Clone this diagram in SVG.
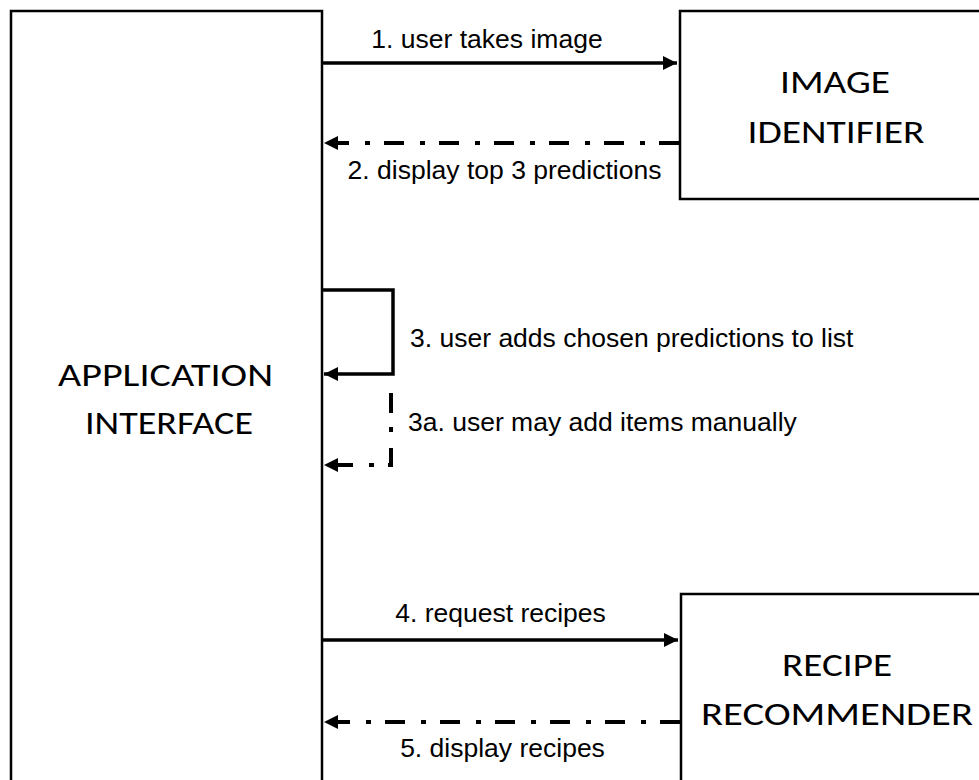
<svg xmlns="http://www.w3.org/2000/svg" width="979" height="780" viewBox="0 0 979 780">
<style>
.box{fill:#fff;stroke:#000;stroke-width:2.5}
.big{font-family:Carlito,"Open Sans","Liberation Sans",sans-serif;font-size:32px;fill:#000;text-anchor:middle}
.lbl{font-family:"Liberation Sans",Arial,sans-serif;font-size:26.5px;fill:#000}
.solid{fill:none;stroke:#000;stroke-width:3.5}
.dd{fill:none;stroke:#000;stroke-width:4;stroke-dasharray:20 14 5 16}
</style>
<defs>
<marker id="ah" viewBox="0 0 10 10" refX="10" refY="5" markerWidth="4.2" markerHeight="4" markerUnits="strokeWidth" orient="auto">
<path d="M0,0 L10,5 L0,10 z" fill="#000"/>
</marker>
<marker id="ah2" viewBox="0 0 10 10" refX="10" refY="5" markerWidth="3.6" markerHeight="3.6" markerUnits="strokeWidth" orient="auto">
<path d="M0,0 L10,5 L0,10 z" fill="#000"/>
</marker>
</defs>
<rect width="979" height="780" fill="#fff"/>
<g id="app">
<rect class="box" x="11" y="11" width="311" height="800"/>
<text class="big" x="165.5" y="386" textLength="215" lengthAdjust="spacingAndGlyphs">APPLICATION</text>
<text class="big" x="169" y="434" textLength="168" lengthAdjust="spacingAndGlyphs">INTERFACE</text>
</g>
<g id="identifier">
<rect class="box" x="680" y="11" width="320" height="188"/>
<text class="big" x="835" y="93" textLength="110" lengthAdjust="spacingAndGlyphs">IMAGE</text>
<text class="big" x="836" y="143" textLength="177" lengthAdjust="spacingAndGlyphs">IDENTIFIER</text>
</g>
<g id="recommender">
<rect class="box" x="681" y="594" width="320" height="220"/>
<text class="big" x="837" y="676" textLength="110" lengthAdjust="spacingAndGlyphs">RECIPE</text>
<text class="big" x="837" y="725" textLength="272" lengthAdjust="spacingAndGlyphs">RECOMMENDER</text>
</g>
<g id="connectors">
<line class="solid" x1="322" y1="63" x2="677" y2="63" marker-end="url(#ah)"/>
<text class="lbl" x="487" y="48" text-anchor="middle">1. user takes image</text>
<line class="dd" x1="679" y1="143" x2="324" y2="143" marker-end="url(#ah2)"/>
<text class="lbl" x="504.5" y="179" text-anchor="middle">2. display top 3 predictions</text>
<polyline class="solid" points="322,290 393,290 393,374 324,374" marker-end="url(#ah)"/>
<text class="lbl" x="410" y="347">3. user adds chosen predictions to list</text>
<polyline class="dd" points="391,393 391,465 324,465" marker-end="url(#ah2)"/>
<text class="lbl" x="408" y="431">3a. user may add items manually</text>
<line class="solid" x1="322" y1="640" x2="678" y2="640" marker-end="url(#ah)"/>
<text class="lbl" x="500.5" y="622" text-anchor="middle">4. request recipes</text>
<line class="dd" x1="680" y1="722" x2="324" y2="722" marker-end="url(#ah2)"/>
<text class="lbl" x="502.5" y="757" text-anchor="middle">5. display recipes</text>
</g>
</svg>
